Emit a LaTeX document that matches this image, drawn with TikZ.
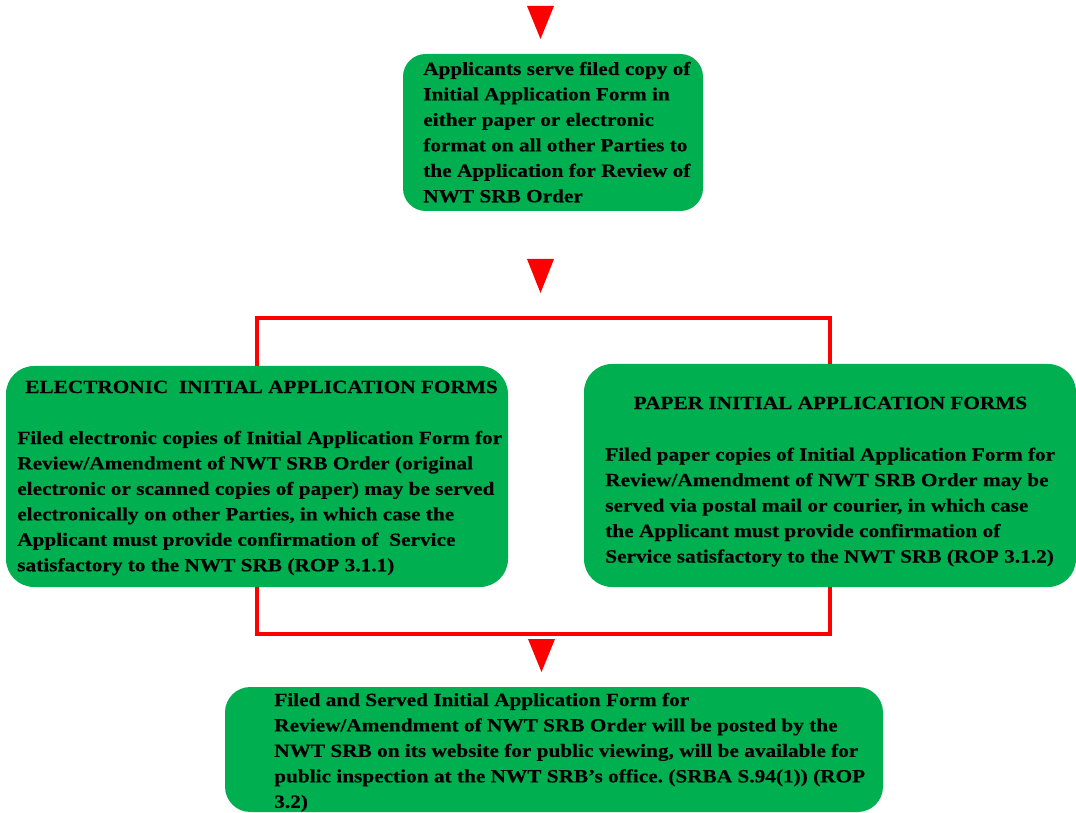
\documentclass[tikz,border=0pt]{standalone}
\usepackage{fontspec}
\setmainfont{Liberation Serif}[FakeStretch=1.14,BoldFeatures={FakeBold=0.3}]
\usetikzlibrary{fit}
\definecolor{boxgreen}{HTML}{00B050}
\definecolor{linered}{HTML}{FF0000}
\frenchspacing
\begin{document}
\frenchspacing
\begin{tikzpicture}[x=0.75pt,y=-0.75pt,
  box/.style={fill=boxgreen, draw=none, rounded corners=21pt, inner sep=0pt},
  txt/.style={anchor=base west, inner sep=0pt, font=\fontsize{14}{19.09}\selectfont\bfseries},
  conn/.style={draw=linered, line width=3pt},
  arrowtri/.style={fill=linered}]
\useasboundingbox (0,0) rectangle (1076,813);
% boxes
\node[box, rounded corners=17pt, fit={(403,54)(703,211)}] (top) {};
\node[box, fit={(6,366)(508,587)}] (left) {};
\node[box, fit={(584,364)(1076,587)}] (right) {};
\node[box, rounded corners=19pt, fit={(225,687)(883,812)}] (bottom) {};
% connectors
\coordinate (split) at (544,318);
\coordinate (join) at (544,634);
\draw[conn] (left.north) |- (split) -| (right.north);
\draw[conn] (left.south) |- (join) -| (right.south);
% arrowheads
\fill[arrowtri] (527,6) -- (554,6) -- (540.5,39) -- cycle;
\fill[arrowtri] (527,259) -- (554,259) -- (540.5,293) -- cycle;
\fill[arrowtri] (528,639) -- (555,639) -- (541.5,672) -- cycle;
% texts
\node[txt] (toptext) at (423,75) {\begin{tabular}[t]{@{}l@{}}
Applicants serve filed copy of\\
Initial Application Form in\\
either paper or electronic\\
format on all other Parties to\\
the Application for Review of\\
NWT SRB Order\end{tabular}};
\node[txt] (lefttitle) at (25,393) {ELECTRONIC\ \ INITIAL APPLICATION FORMS};
\node[txt] (lefttext) at (17,444) {\begin{tabular}[t]{@{}l@{}}
Filed electronic copies of Initial Application Form for\\
Review/Amendment of NWT SRB Order (original\\
electronic or scanned copies of paper) may be served\\
electronically on other Parties, in which case the\\
Applicant must provide confirmation of\ \ Service\\
satisfactory to the NWT SRB (ROP 3.1.1)\end{tabular}};
\node[txt, anchor=base] (righttitle) at (830.5,409) {PAPER INITIAL APPLICATION FORMS};
\node[txt] (righttext) at (605,460.7) {\begin{tabular}[t]{@{}l@{}}
Filed paper copies of Initial Application Form for\\
Review/Amendment of NWT SRB Order may be\\
served via postal mail or courier, in which case\\
the Applicant must provide confirmation of\\
Service satisfactory to the NWT SRB (ROP 3.1.2)\end{tabular}};
\node[txt] (bottomtext) at (274,706) {\begin{tabular}[t]{@{}l@{}}
Filed and Served Initial Application Form for\\
Review/Amendment of NWT SRB Order will be posted by the\\
NWT SRB on its website for public viewing, will be available for\\
public inspection at the NWT SRB’s office. (SRBA S.94(1)) (ROP\\
3.2)\end{tabular}};
\end{tikzpicture}
\end{document}
